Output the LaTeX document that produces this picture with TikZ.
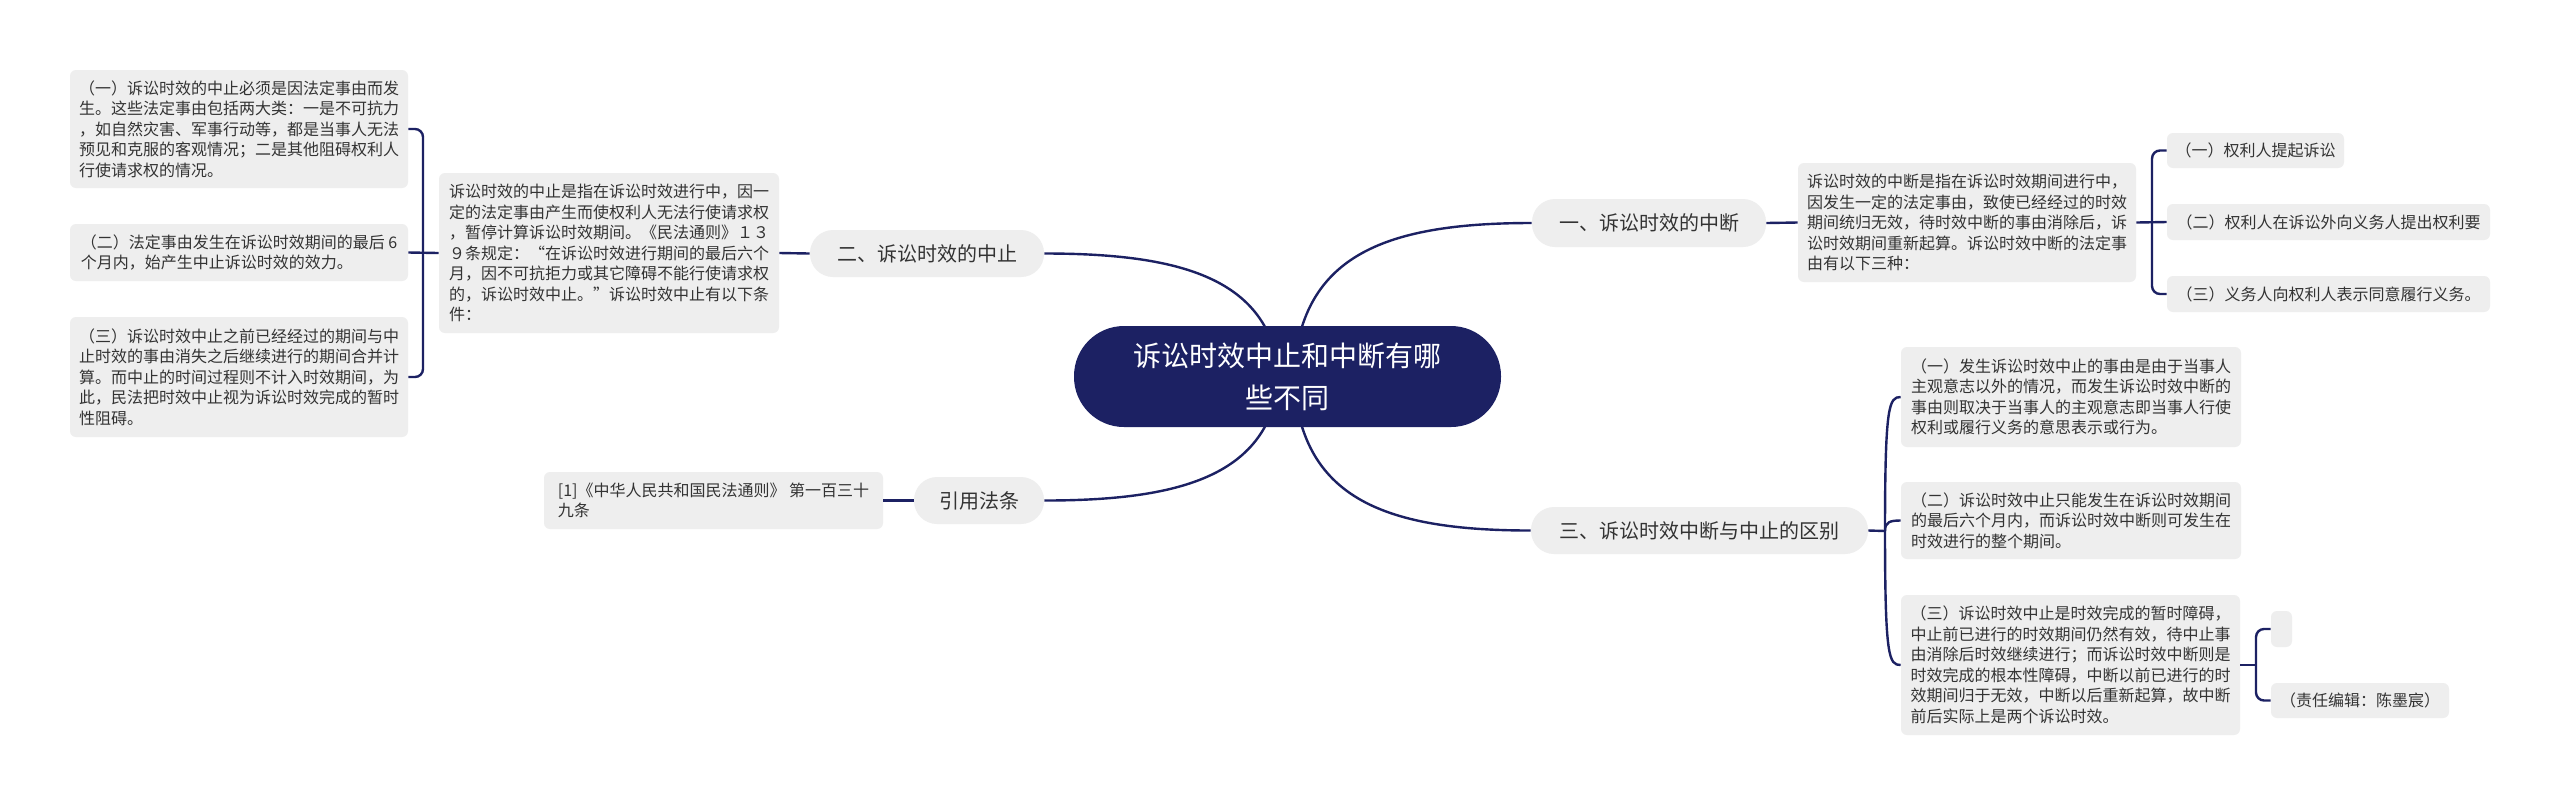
\documentclass[tikz,border=0pt]{standalone}
\usepackage{fontspec}
\setmainfont{Noto Sans CJK SC}
\definecolor{navy}{HTML}{1C2163}
\definecolor{boxgray}{HTML}{EEEEEE}
\definecolor{txt}{HTML}{333333}
\pgfdeclarelayer{bg}
\pgfsetlayers{bg,main}
\tikzset{
  conn/.style={draw=navy, line width=1.2pt},
  box/.style={fill=boxgray, rounded corners=3pt, inner sep=0pt, align=left, text=txt,
    font=\fontsize{8pt}{10.25pt}\selectfont},
  branch/.style={fill=boxgray, rounded corners=11.5pt, inner sep=0pt, text=txt,
    font=\fontsize{10pt}{12pt}\selectfont},
  rootnode/.style={fill=navy, rounded corners=25pt, inner sep=0pt, text=white, align=center,
    font=\fontsize{14pt}{21pt}\selectfont},
}
\begin{document}
\begin{tikzpicture}[x=0.5pt,y=-0.5pt]
\begin{pgfonlayer}{bg}
\path[fill=white, use as bounding box] (0,0) rectangle (2560,805);
\end{pgfonlayer}

% root and main branches
\node[rootnode, minimum width=213.5pt, minimum height=50.5pt] (root) at (1287.5,376.5) {诉讼时效中止和中断有哪\\些不同};
\node[branch, minimum width=117pt, minimum height=24pt] (b1) at (1649,223) {一、诉讼时效的中断};
\node[branch, minimum width=117pt, minimum height=23.5pt] (b2) at (927,253.5) {二、诉讼时效的中止};
\node[branch, minimum width=65pt, minimum height=23.5pt] (b4) at (979,500.5) {引用法条};
\node[branch, minimum width=168.5pt, minimum height=23.5pt] (b3) at (1699.5,530.5) {三、诉讼时效中断与中止的区别};

% detail boxes
\node[box, minimum width=169pt, minimum height=59.5pt] (d1) at (1967,222.5) {诉讼时效的中断是指在诉讼时效期间进行中，\\因发生一定的法定事由，致使已经经过的时效\\期间统归无效，待时效中断的事由消除后，诉\\讼时效期间重新起算。诉讼时效中断的法定事\\由有以下三种：};
\node[box, minimum width=170pt, minimum height=80pt] (d2) at (609,253) {诉讼时效的中止是指在诉讼时效进行中，因一\\定的法定事由产生而使权利人无法行使请求权\\，暂停计算诉讼时效期间。《民法通则》１３\\９条规定：“在诉讼时效进行期间的最后六个\\月，因不可抗拒力或其它障碍不能行使请求权\\的，诉讼时效中止。”诉讼时效中止有以下条\\件：};
\node[box, minimum width=169.5pt, minimum height=28.5pt] (ref) at (713.5,500.5) {[1]《中华人民共和国民法通则》 第一百三十\\九条};

% children of 二
\node[box, minimum width=169pt, minimum height=59pt] (c21) at (239,129) {（一）诉讼时效的中止必须是因法定事由而发\\生。这些法定事由包括两大类：一是不可抗力\\，如自然灾害、军事行动等，都是当事人无法\\预见和克服的客观情况；二是其他阻碍权利人\\行使请求权的情况。};
\node[box, minimum width=169pt, minimum height=28.5pt] (c22) at (239,252.5) {（二）法定事由发生在诉讼时效期间的最后 6\\个月内，始产生中止诉讼时效的效力。};
\node[box, minimum width=169pt, minimum height=60pt] (c23) at (239,377) {（三）诉讼时效中止之前已经经过的期间与中\\止时效的事由消失之后继续进行的期间合并计\\算。而中止的时间过程则不计入时效期间，为\\此，民法把时效中止视为诉讼时效完成的暂时\\性阻碍。};

% children of 一
\node[box, minimum width=88.5pt, minimum height=17.5pt] (c11) at (2255.5,150.5) {（一）权利人提起诉讼};
\node[box, minimum width=161.5pt, minimum height=18pt] (c12) at (2328.5,222) {（二）权利人在诉讼外向义务人提出权利要};
\node[box, minimum width=161.5pt, minimum height=18pt] (c13) at (2328.5,294) {（三）义务人向权利人表示同意履行义务。};

% children of 三
\node[box, minimum width=170pt, minimum height=50pt] (c31) at (2071,397) {（一）发生诉讼时效中止的事由是由于当事人\\主观意志以外的情况，而发生诉讼时效中断的\\事由则取决于当事人的主观意志即当事人行使\\权利或履行义务的意思表示或行为。};
\node[box, minimum width=170pt, minimum height=38.5pt] (c32) at (2071,520.5) {（二）诉讼时效中止只能发生在诉讼时效期间\\的最后六个月内，而诉讼时效中断则可发生在\\时效进行的整个期间。};
\node[box, minimum width=169.5pt, minimum height=70pt] (c33) at (2070.5,665) {（三）诉讼时效中止是时效完成的暂时障碍，\\中止前已进行的时效期间仍然有效，待中止事\\由消除后时效继续进行；而诉讼时效中断则是\\时效完成的根本性障碍，中断以前已进行的时\\效期间归于无效，中断以后重新起算，故中断\\前后实际上是两个诉讼时效。};
\node[box, minimum width=10.5pt, minimum height=18pt] (e1) at (2281.5,629) {};
\node[box, minimum width=89pt, minimum height=17.5pt] (e2) at (2360,700.5) {（责任编辑：陈墨宸）};

% bracket coordinates
\coordinate (k1) at (2152,222);
\coordinate (k2) at (423,253);
\coordinate (k3) at (2256,665);
\coordinate (k4) at (1885,531);

% root curves
\begin{pgfonlayer}{bg}
\draw[conn] ([xshift=3pt]root.center) .. controls (1300,258) and (1380,223) .. (b1.west);
\draw[conn] ([xshift=3pt]root.center) .. controls (1300,496) and (1380,530.5) .. (b3.west);
\draw[conn] ([xshift=-4pt]root.center) .. controls (1270,278) and (1180,253.5) .. (b2.east);
\draw[conn] ([xshift=-4pt]root.center) .. controls (1270,476) and (1180,500.5) .. (b4.east);
\end{pgfonlayer}

% branch to detail
\draw[conn] (b1.east) -- (d1.west);
\draw[conn] (b2.west) -- (d2.east);
\draw[conn] (b4.west) -- (ref.east);

% 一 bracket
\draw[conn] (d1.east) -- (c12.west);
\draw[conn, rounded corners=4pt] (c11.west) -| (k1) |- (c13.west);

% 二 bracket
\draw[conn] (c22.east) -- (d2.west);
\draw[conn, rounded corners=4pt] (c21.east) -| (k2) |- (c23.east);

% 三 group
\draw[conn] (b3.east) -- (k4);
\draw[conn] (k4) .. controls (1885,405) and (1889,397) .. (c31.west);
\draw[conn] (k4) .. controls (1885,522) and (1890,520.5) .. (c32.west);
\draw[conn] (k4) .. controls (1885,658) and (1889,665) .. (c33.west);

% c33 bracket
\draw[conn] (c33.east) -- (k3);
\draw[conn, rounded corners=4pt] (e1.west) -| (k3) |- (e2.west);
\end{tikzpicture}
\end{document}
